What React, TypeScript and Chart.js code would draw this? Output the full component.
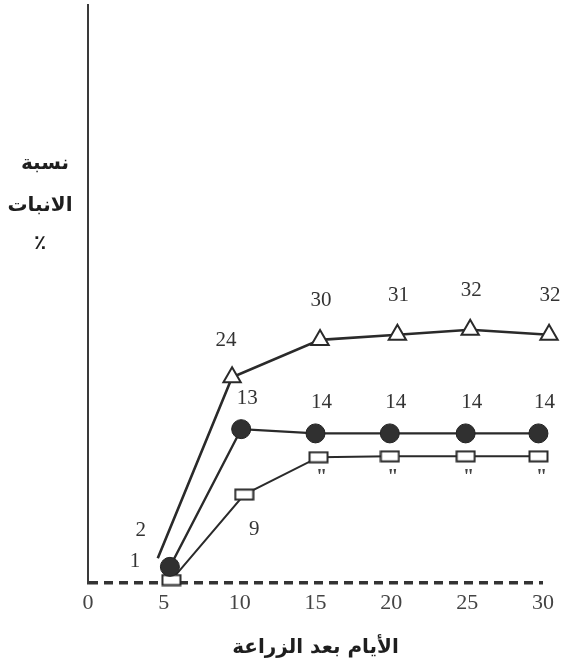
import { useEffect, useRef } from "react";
import { Chart, registerables } from "chart.js";
Chart.register(...registerables);

// x ticks
const xTickValues = [0, 5, 10, 15, 20, 25, 30];
// series: triangles (upper curve)
const triX = [4.6, 9.5, 15.3, 20.4, 25.2, 30.4];
const triY = [2.9, 24.2, 28.6, 29.2, 29.8, 29.2];
const triLabels = ["2", "24", "30", "31", "32", "32"];
// series: filled circles (middle curve)
const dotX = [5.4, 10.1, 15.0, 19.9, 24.9, 29.7];
const dotY = [1.9, 18.1, 17.6, 17.6, 17.6, 17.6];
const dotLabels = ["1", "13", "14", "14", "14", "14"];
// series: open rectangles (lower curve)
const boxX = [5.5, 10.3, 15.2, 19.9, 24.9, 29.7];
const boxY = [0.35, 10.4, 14.8, 14.9, 14.9, 14.9];
const boxLabels = ["", "9", "\"", "\"", "\"", "\""];
// titles
const xTitle = "الأيام بعد الزراعة";
const yTitleLines = ["نسبة", "الانبات", "٪"];

const INK = "#2a2a2a";

function makeRectStyle(): HTMLCanvasElement {
  const c = document.createElement("canvas");
  c.width = 21;
  c.height = 13;
  const g = c.getContext("2d")!;
  g.fillStyle = "#ffffff";
  g.fillRect(1, 1, 19, 11);
  g.strokeStyle = INK;
  g.lineWidth = 2;
  g.strokeRect(1.5, 1.5, 18, 10);
  return c;
}

const labelPlugin = {
  id: "pointLabels",
  afterDatasetsDraw(chart: any) {
    const ctx = chart.ctx;
    const sets = [triLabels, dotLabels, boxLabels];
    ctx.save();
    ctx.textAlign = "center";
    ctx.textBaseline = "middle";
    sets.forEach((labels, di) => {
      const meta = chart.getDatasetMeta(di);
      meta.data.forEach((pt: any, i: number) => {
        const text = labels[i];
        if (!text) return;
        let dx = 0;
        let dy = 0;
        if (di === 0) {
          if (i === 0) { dx = -17; dy = -28; }
          else if (i === 1) { dx = -6; dy = -37; }
          else { dx = 1; dy = -39; }
        } else if (di === 1) {
          if (i === 0) { dx = -35; dy = -5; }
          else { dx = 6; dy = -31; }
        } else {
          if (i === 1) { dx = 10; dy = 35; }
          else { dx = 3; dy = 21; }
        }
        if (text === "\"") {
          ctx.font = "bold 20px 'Liberation Serif'";
          ctx.fillStyle = "#444";
        } else {
          ctx.font = "21px 'Liberation Serif'";
          ctx.fillStyle = "#333";
        }
        ctx.fillText(text, pt.x + dx, pt.y + dy);
      });
    });
    ctx.restore();
  },
};

const yTitlePlugin = {
  id: "yTitle",
  afterDraw(chart: any) {
    const ctx = chart.ctx;
    ctx.save();
    ctx.textAlign = "center";
    ctx.textBaseline = "middle";
    ctx.fillStyle = "#1e1e1e";
    ctx.font = "bold 20px 'DejaVu Sans'";
    const ys = [164, 206, 244];
    const xs = [45, 40, 40];
    yTitleLines.forEach((t, i) => ctx.fillText(t, xs[i], ys[i]));
    ctx.restore();
  },
};

export default function App() {
  const ref = useRef<HTMLCanvasElement>(null);
  useEffect(() => {
    if (!ref.current) return;
    const rectStyle = makeRectStyle();
    const chart = new Chart(ref.current, {
      type: "line",
      data: {
        datasets: [
          {
            data: triX.map((x, i) => ({ x, y: triY[i] })),
            borderColor: INK,
            borderWidth: 2.6,
            pointStyle: "triangle",
            pointRadius: triX.map((_, i) => (i === 0 ? 0 : 10)),
            pointBackgroundColor: "#ffffff",
            pointBorderColor: INK,
            pointBorderWidth: 2,
            clip: false,
            tension: 0,
          },
          {
            data: dotX.map((x, i) => ({ x, y: dotY[i] })),
            borderColor: INK,
            borderWidth: 2.3,
            pointStyle: "circle",
            pointRadius: 9.5,
            pointBackgroundColor: "#303030",
            pointBorderColor: "#222",
            pointBorderWidth: 1,
            clip: false,
            tension: 0,
          },
          {
            data: boxX.map((x, i) => ({ x, y: boxY[i] })),
            borderColor: INK,
            borderWidth: 2,
            pointStyle: rectStyle,
            pointRadius: 10,
            clip: false,
            tension: 0,
          },
        ],
      },
      options: {
        animation: false,
        responsive: false,
        events: [],
        layout: { autoPadding: false, padding: { top: 5, right: 24, left: 0, bottom: 0 } },
        plugins: {
          legend: { display: false },
          tooltip: { enabled: false },
        },
        scales: {
          x: {
            type: "linear",
            min: 0,
            max: 30,
            afterFit: (s: any) => { s.height = 85; },
            afterBuildTicks: (s: any) => { s.ticks = xTickValues.map((v) => ({ value: v })); },
            grid: { display: false, drawTicks: false },
            border: { display: false },
            ticks: {
              padding: 7,
              color: "#444",
              font: { family: "'Liberation Serif'", size: 22 },
              maxRotation: 0,
            },
            title: {
              display: true,
              text: xTitle,
              color: "#1e1e1e",
              font: { family: "'DejaVu Sans'", size: 20, weight: "bold" },
              padding: { top: 0, bottom: 8 },
            },
          },
          y: {
            type: "linear",
            min: 0,
            max: 68,
            afterFit: (s: any) => { s.width = 88; },
            afterBuildTicks: (s: any) => { s.ticks = [{ value: 0 }]; },
            grid: { display: true, drawTicks: false, color: "#333", lineWidth: 3.5 },
            border: { display: true, color: "#3a3a3a", width: 2, dash: [9, 6] },
            ticks: { display: false },
          },
        },
      },
      plugins: [labelPlugin, yTitlePlugin],
    });
    return () => chart.destroy();
  }, []);
  return (
    <div style={{ position: "fixed", left: 0, top: 0, width: 567, height: 668, background: "#fff" }}>
      <canvas ref={ref} width={567} height={668} />
    </div>
  );
}
